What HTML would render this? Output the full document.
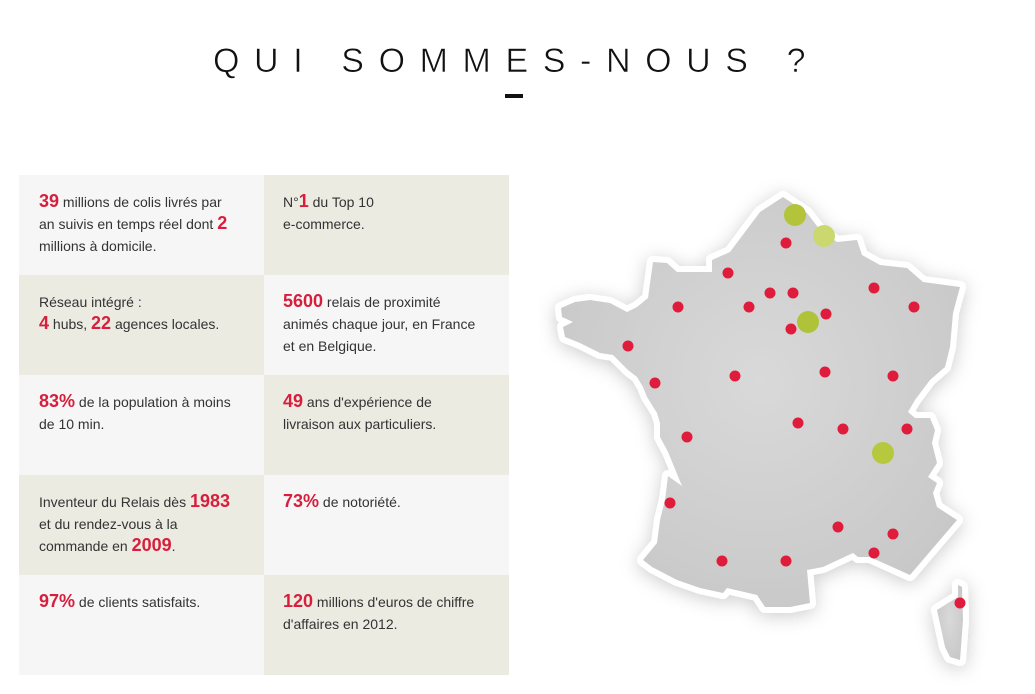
<!DOCTYPE html>
<html><head><meta charset="utf-8">
<style>
html,body{margin:0;padding:0;background:#fff;width:1035px;height:694px;overflow:hidden;position:relative}
.title{position:absolute;left:213px;top:44px;font-family:"Liberation Sans",sans-serif;font-size:34px;line-height:34px;letter-spacing:14.6px;color:#111;white-space:nowrap;-webkit-text-stroke:0.6px #fff}
.dash{position:absolute;left:505px;top:94px;width:18px;height:4px;background:#111}
.c{position:absolute;width:245px;height:100px;box-sizing:border-box;padding:16px 0 0 20px;font-family:"Liberation Sans",sans-serif;font-size:14px;line-height:22px;color:#333;white-space:nowrap}
.r{padding-left:19px}
.l1{background:#f6f6f6}.b{background:#ebebe2}
.c b{color:#d71f3d;font-size:18px;line-height:1}
</style></head><body>
<div class="title">QUI SOMMES-NOUS ?</div>
<div class="dash"></div>

<div class="c l1" style="left:19px;top:175px"><b>39</b> millions de colis livrés par<br>an suivis en temps réel dont <b>2</b><br>millions à domicile.</div>
<div class="c b r" style="left:264px;top:175px">N°<b>1</b> du Top 10<br>e-commerce.</div>

<div class="c b" style="left:19px;top:275px">Réseau intégré :<br><b>4</b> hubs, <b>22</b> agences locales.</div>
<div class="c l1 r" style="left:264px;top:275px"><b>5600</b> relais de proximité<br>animés chaque jour, en France<br>et en Belgique.</div>

<div class="c l1" style="left:19px;top:375px"><b>83%</b> de la population à moins<br>de 10 min.</div>
<div class="c b r" style="left:264px;top:375px"><b>49</b> ans d'expérience de<br>livraison aux particuliers.</div>

<div class="c b" style="left:19px;top:475px">Inventeur du Relais dès <b>1983</b><br>et du rendez-vous à la<br>commande en <b>2009</b>.</div>
<div class="c l1 r" style="left:264px;top:475px"><b>73%</b> de notoriété.</div>

<div class="c l1" style="left:19px;top:575px"><b>97%</b> de clients satisfaits.</div>
<div class="c b r" style="left:264px;top:575px"><b>120</b> millions d'euros de chiffre<br>d'affaires en 2012.</div>

<svg width="1035" height="694" style="position:absolute;left:0;top:0" xmlns="http://www.w3.org/2000/svg">
<defs>
<filter id="sh" x="-20%" y="-20%" width="140%" height="140%">
<feDropShadow dx="0" dy="3" stdDeviation="9" flood-color="#000" flood-opacity="0.2"/>
</filter>
<radialGradient id="g" cx="0.5" cy="0.45" r="0.6">
<stop offset="0" stop-color="#d9d9d9"/><stop offset="1" stop-color="#c8c8c8"/>
</radialGradient>
</defs>
<g filter="url(#sh)" fill="url(#g)" stroke="#fff" stroke-width="12" stroke-linejoin="round" paint-order="stroke">
<path d="M783,197 L807,213 L820,230 L837,242 L857,240 L862,255 L880,265 L907,268 L923,282 L960,287 L953,313 L950,347 L945,367 L930,380 L915,400 L908,412 L915,418 L930,418 L935,430 L932,443 L937,463 L928,477 L937,483 L933,493 L937,507 L957,520 L910,575 L870,557 L858,557 L853,553 L823,567 L807,570 L810,603 L790,607 L787,607 L765,607 L757,595 L727,588 L723,593 L700,588 L677,580 L652,567 L643,560 L657,543 L660,520 L665,500 L668,476 L682,486 L668,452 L660,437 L660,423 L657,413 L647,397 L643,387 L637,377 L628,370 L613,355 L600,353 L580,343 L565,337 L563,327 L573,322 L562,317 L561,308 L575,302 L590,300 L610,303 L627,312 L637,307 L648,298 L653,262 L667,263 L677,272 L712,272 L712,260 L730,252 L760,212 Z"/>
<path d="M958,585 L962,587 L963,620 L960,660 L950,657 L945,647 L942,633 L937,610 L948,603 L958,597 Z"/>
</g>
<g fill="#e01c3c">
<circle cx="786" cy="243" r="5.5"/>
<circle cx="728" cy="273" r="5.5"/>
<circle cx="770" cy="293" r="5.5"/>
<circle cx="793" cy="293" r="5.5"/>
<circle cx="874" cy="288" r="5.5"/>
<circle cx="914" cy="307" r="5.5"/>
<circle cx="678" cy="307" r="5.5"/>
<circle cx="749" cy="307" r="5.5"/>
<circle cx="826" cy="314" r="5.5"/>
<circle cx="791" cy="329" r="5.5"/>
<circle cx="628" cy="346" r="5.5"/>
<circle cx="655" cy="383" r="5.5"/>
<circle cx="735" cy="376" r="5.5"/>
<circle cx="825" cy="372" r="5.5"/>
<circle cx="893" cy="376" r="5.5"/>
<circle cx="798" cy="423" r="5.5"/>
<circle cx="843" cy="429" r="5.5"/>
<circle cx="907" cy="429" r="5.5"/>
<circle cx="687" cy="437" r="5.5"/>
<circle cx="670" cy="503" r="5.5"/>
<circle cx="838" cy="527" r="5.5"/>
<circle cx="893" cy="534" r="5.5"/>
<circle cx="874" cy="553" r="5.5"/>
<circle cx="722" cy="561" r="5.5"/>
<circle cx="786" cy="561" r="5.5"/>
<circle cx="960" cy="603" r="5.5"/>
</g>
<circle cx="795" cy="215" r="11" fill="#b3c43a"/>
<circle cx="824" cy="236" r="11" fill="#cbd86e"/>
<circle cx="808" cy="322" r="11" fill="#afc23a"/>
<circle cx="883" cy="453" r="11" fill="#b6c83e"/>
</svg>
</body></html>
